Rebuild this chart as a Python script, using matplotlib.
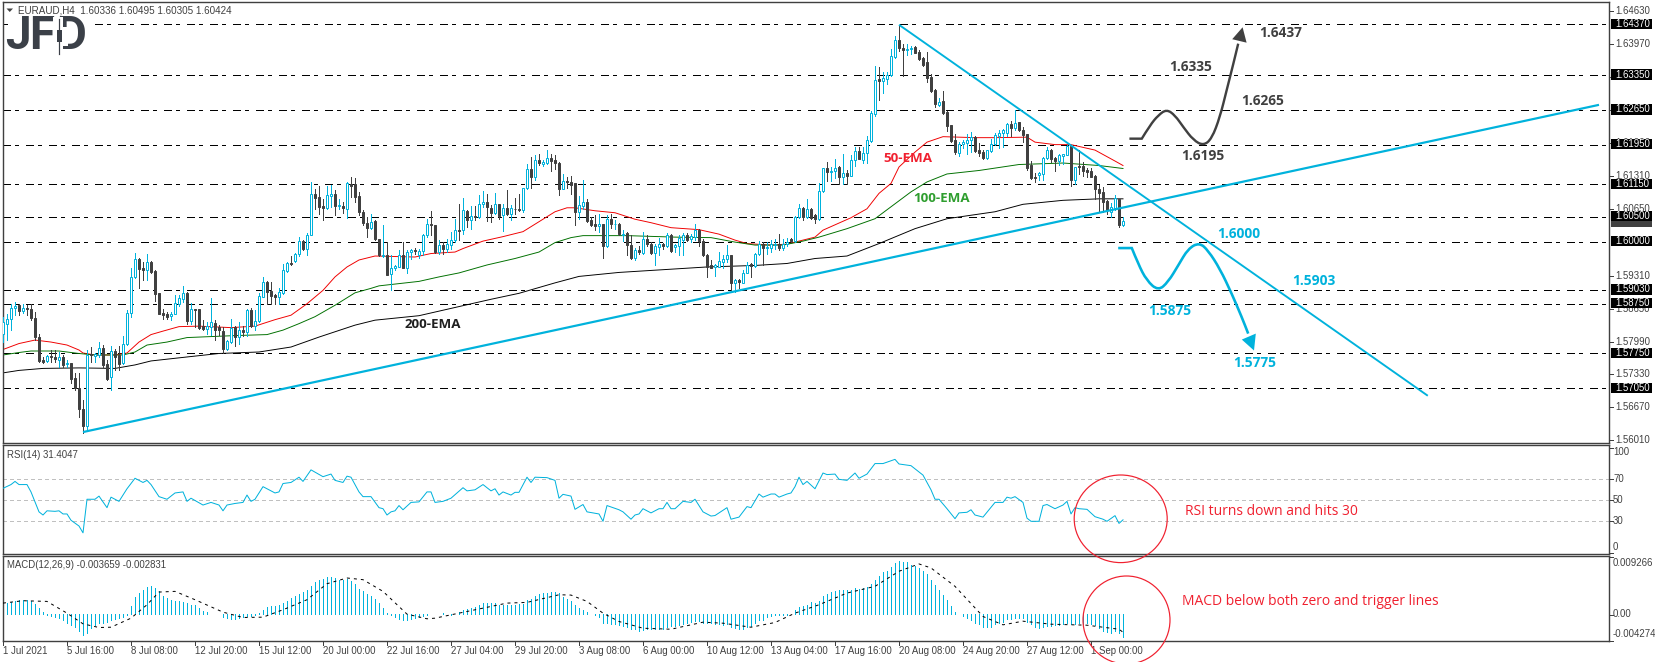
import numpy as np
import matplotlib
matplotlib.use("Agg")
import matplotlib.pyplot as plt
from matplotlib.patches import Rectangle, Ellipse, Polygon, PathPatch
from matplotlib.path import Path

# ---------- DATA (prices are given as pips above 1.5000) ----------
opens_pips = [815,835,845,867,872,861,867,865,847,808,
762,760,770,767,762,768,753,756,725,705,
664,630,773,770,772,787,754,727,780,771,
755,795,857,928,966,946,942,958,940,896,
857,855,850,855,875,885,896,840,865,865,
830,825,829,837,829,821,785,798,829,808,
822,819,863,830,841,889,919,901,892,888,
896,941,957,960,976,1001,986,1014,1096,1090,
1072,1068,1092,1096,1071,1072,1066,1116,1115,1091,
1059,1038,1028,1041,1006,972,974,934,946,949,
974,947,979,984,973,981,1013,1036,1034,979,
993,985,993,1004,1024,1023,1062,1043,1052,1050,
1076,1080,1068,1058,1076,1053,1068,1055,1066,1066,
1063,1107,1145,1130,1164,1157,1158,1169,1164,1158,
1105,1121,1120,1117,1060,1072,1079,1043,1036,1032,
1035,991,1046,1035,1036,1013,1018,994,968,984,
977,1006,996,977,989,995,991,1013,989,992,
1004,1014,1005,1010,1024,1001,974,952,949,949,
959,965,974,916,922,917,937,954,951,976,
996,987,988,993,996,987,995,1005,1001,1050,
1068,1050,1066,1053,1046,1102,1147,1139,1141,1151,
1130,1138,1132,1164,1182,1165,1178,1202,1256,1326,
1323,1326,1336,1371,1406,1390,1386,1387,1391,1381,
1369,1361,1331,1304,1274,1283,1260,1234,1204,1178,
1196,1198,1204,1210,1184,1180,1169,1182,1196,1212,
1218,1218,1236,1228,1241,1225,1217,1155,1130,1133,
1135,1168,1185,1168,1162,1172,1174,1192,1123,1153,
1153,1143,1141,1131,1105,1099,1081,1060,1068,1086,1033.6]
highs_pips = [849,855,875,879,875,875,872,875,859,815,
767,772,783,782,778,772,762,756,735,735,
681,782,788,775,798,792,762,790,785,790,
810,862,946,978,967,959,976,961,942,896,
865,859,859,892,892,911,899,877,865,865,
842,839,886,843,832,829,802,845,830,839,
830,865,867,862,896,928,920,919,894,906,
955,959,971,977,1010,1003,1018,1120,1106,1111,
1086,1111,1113,1104,1086,1080,1120,1129,1127,1100,
1064,1050,1056,1043,1006,1033,999,973,953,984,
999,984,986,988,986,1016,1046,1061,1034,1004,
999,1006,1020,1046,1075,1087,1064,1071,1071,1093,
1101,1095,1073,1097,1076,1076,1103,1073,1087,1095,
1107,1156,1170,1175,1177,1164,1184,1176,1174,1160,
1135,1130,1131,1118,1091,1123,1085,1050,1053,1055,
1035,1053,1056,1043,1038,1023,1020,1013,988,991,
1020,1013,999,996,1008,997,1018,1016,996,1013,
1018,1018,1015,1036,1026,1006,976,963,955,979,
973,993,974,924,924,942,959,956,977,1001,
999,999,1003,1006,1015,1006,1008,1008,1051,1076,
1070,1085,1068,1055,1117,1149,1160,1150,1167,1153,
1177,1143,1174,1190,1190,1190,1212,1262,1354,1351,
1342,1342,1388,1413,1436,1398,1397,1393,1393,1385,
1371,1381,1338,1306,1289,1302,1262,1235,1216,1200,
1204,1217,1220,1212,1198,1184,1185,1207,1218,1224,
1227,1239,1243,1265,1241,1230,1217,1162,1137,1140,
1170,1190,1187,1170,1176,1177,1194,1194,1151,1184,
1160,1147,1147,1133,1113,1110,1083,1078,1093,1086,1049.5]
lows_pips = [798,802,822,852,852,857,852,843,802,758,
756,758,758,758,748,748,748,715,701,648,
616,620,758,758,768,748,721,701,742,742,
754,792,849,926,906,922,922,936,881,854,
845,845,843,854,870,879,834,834,829,825,
823,815,812,803,812,775,783,797,790,795,
810,810,829,822,839,888,875,875,875,875,
894,939,953,959,971,983,973,1013,1066,1056,
1043,1065,1070,1053,1065,1058,1048,1090,1080,1053,
1033,1010,1026,1003,971,969,932,902,942,948,
946,936,966,976,968,973,1009,1013,977,976,
976,979,986,999,1003,1016,1030,1026,1043,1048,
1070,1041,1040,1056,1046,1022,1053,1044,1056,1062,
1060,1105,1107,1123,1154,1152,1156,1142,1145,1093,
1105,1107,1095,1033,1046,1066,1040,1031,1023,1020,
967,989,1028,1026,1013,1001,973,965,963,976,
976,991,976,953,973,986,989,979,979,973,
973,1001,999,1003,991,971,929,946,930,948,
946,959,899,899,906,916,936,929,949,973,
953,976,979,986,984,984,991,999,1000,1048,
1044,1048,1046,1038,1044,1100,1122,1122,1127,1115,
1115,1115,1131,1153,1167,1158,1158,1200,1253,1284,
1299,1316,1334,1370,1383,1334,1375,1377,1379,1365,
1354,1321,1301,1271,1272,1256,1222,1200,1176,1172,
1189,1176,1180,1180,1172,1167,1167,1180,1194,1189,
1190,1212,1212,1224,1222,1200,1143,1125,1120,1123,
1123,1167,1160,1142,1155,1157,1174,1111,1115,1135,
1132,1130,1129,1086,1062,1060,1055,1050,1063,1030,1030.5]
closes_pips = [839,845,867,871,861,866,865,847,808,760,
758,770,767,763,767,752,755,723,705,664,
630,772,771,773,787,752,723,780,768,754,
795,857,928,966,944,942,958,939,895,855,
853,849,855,877,886,896,840,865,863,827,
825,830,839,823,822,785,800,827,808,822,
819,862,830,841,890,918,899,890,888,898,
942,957,954,976,1001,985,1014,1096,1088,1070,
1068,1094,1096,1072,1073,1068,1118,1112,1090,1060,
1038,1028,1040,1005,973,974,932,946,951,974,
947,979,984,981,981,1013,1036,1034,979,993,
985,995,1004,1024,1022,1063,1043,1051,1050,1076,
1080,1070,1058,1076,1051,1067,1055,1067,1065,1064,
1107,1145,1130,1164,1158,1160,1169,1162,1158,1105,
1121,1119,1113,1060,1073,1079,1042,1034,1031,1035,
991,1046,1035,1036,1015,1016,993,968,984,979,
1006,995,977,991,995,991,1013,981,993,1008,
1014,1004,1011,1024,1001,973,949,947,952,960,
966,974,916,922,919,937,952,951,976,996,
988,989,995,996,988,996,999,1001,1050,1068,
1050,1066,1048,1046,1102,1147,1139,1141,1148,1129,
1137,1132,1164,1182,1167,1178,1204,1259,1324,1323,
1328,1336,1373,1406,1389,1385,1388,1389,1380,1367,
1356,1328,1303,1276,1280,1259,1232,1202,1180,1197,
1200,1205,1210,1182,1178,1169,1184,1196,1214,1219,
1225,1236,1228,1239,1224,1214,1147,1127,1127,1137,
1169,1185,1167,1162,1174,1176,1192,1123,1150,1150,
1142,1139,1130,1105,1098,1080,1063,1070,1088,1033,1042.4]

ema50_idx = [0,4,8,12,16,19,20,23,28,31,34,37,40,44,49,57,63,68,72,76,80,83,86,89,93,103,107,109,113,115,120,125,130,134,138,141,143,148,153,158,162,167,174,179,183,186,192,196,200,203,205,212,216,219,222,224,228,231,235,243,248,256,258,263,267,273,278,280]
ema50_pips = [783,795,802,798,792,782,776,772,772,776,798,813,820,829,830,827,830,843,852,875,902,929,949,963,971,969,976,977,979,986,1001,1010,1020,1040,1060,1068,1068,1062,1058,1045,1038,1028,1024,1015,1003,996,993,995,1003,1009,1023,1048,1066,1097,1117,1150,1180,1200,1211,1209,1209,1210,1200,1195,1195,1184,1162,1153]
ema100_idx = [0,4,7,14,19,23,30,33,36,41,46,52,58,66,70,74,78,83,88,92,94,104,109,114,121,128,134,138,142,145,156,168,177,183,188,195,200,204,211,218,222,227,231,236,244,254,265,274,280]
ema100_pips = [772,777,780,780,775,772,772,778,792,798,807,809,811,813,822,835,849,872,897,906,911,920,929,937,953,966,979,998,1008,1012,1012,1009,1008,999,993,993,1001,1009,1026,1046,1070,1100,1120,1136,1143,1155,1158,1153,1147]
ema200_idx = [0,4,10,19,28,33,37,46,54,64,72,79,88,93,104,122,129,138,144,154,162,176,188,196,203,211,219,228,236,248,255,265,274,280]
ema200_pips = [736,741,745,746,745,752,760,768,775,778,788,808,832,842,851,884,896,917,930,938,942,949,952,956,966,971,996,1026,1046,1060,1075,1083,1086,1086]

level_prices = [1.6437,1.6335,1.6265,1.6195,1.6115,1.6050,1.6000,1.5903,1.5875,1.5775,1.5705]
level_labels = ['1.64370','1.63350','1.62650','1.61950','1.61150','1.60500','1.60000','1.59030','1.58750','1.57750','1.57050']
axis_prices = [1.6463,1.6397,1.6331,1.6265,1.6199,1.6131,1.6065,1.5931,1.5865,1.5799,1.5733,1.5667,1.5601]
axis_labels = ['1.64630','1.63970','1.63310','1.62650','1.61990','1.61310','1.60650','1.59310','1.58650','1.57990','1.57330','1.56670','1.56010']

support_idx = [20,399];  support_price = [1.5617,1.6275]
resist_idx = [224,356.2]; resist_price = [1.6436,1.5690]

bull_path_idx = [281.6,284.7,286.75,288.8,290.9,293,295.1,297.6,300.1,302.2,304.25,305.9,307.6,308.8]
bull_path_pips = [1207,1207,1234,1254,1266,1254,1230,1204,1193,1207,1251,1304,1358,1398]
bull_head_idx = [309.9,307.3,310.9]; bull_head_pips = [1431,1407,1400]
bear_path_idx = [278.8,282.2,283.8,285.9,288.8,291.3,293.8,296.3,299.1,301.3,304.25,307.2,309.7,311.3]
bear_path_pips = [987,987,955,922,901,919,952,986,998,982,945,895,848,815]
bear_head_idx = [312.75,309.7,313.2]; bear_head_pips = [781,803,815]

rsi_idx = [0,2,3,4,6,7,9,10,11,13,14,15,16,17,19,20,21,23,24,26,27,29,31,33,35,36,37,39,41,43,45,46,47,50,52,54,55,56,58,60,61,62,63,65,68,69,70,72,74,75,77,80,82,83,85,86,87,89,90,92,94,95,96,97,98,99,100,102,104,106,107,108,110,112,115,116,118,120,122,123,124,125,127,128,129,131,132,133,136,138,139,
140,142,143,145,146,149,150,151,154,155,157,158,159,160,162,164,165,166,167,168,170,172,173,175,177,178,181,182,184,186,187,189,190,192,193,194,196,197,198,199,200,201,203,205,206,208,209,211,213,214,216,218,220,223,224,227,230,232,233,234,236,238,239,241,242,243,245,248,250,251,252,253,255,256,257,259,260,261,263,265,266,267,268,269,271,273,275,276,278,279,280]
rsi_vals = [61.4,65,68,65,65,58,39,36,40,39.5,40,37,37,31,25.5,19,51,51,54,43,53,49,61,71,67,69,65,53.5,51,57,58,49,52,45.5,48,45.5,40,45.5,47,48,55,49,51,63,57,58,66,67,72,68,79,72.5,75,69,67,73,72,58,53.5,53.5,43,42,36,39,40,45,41,48,48.5,58,58,48,49,52,62,59,60,65,59,61,55,58,55,57.6,57.6,72,67,72,71.6,69,52,
55.7,54,41.4,46,39,37,30,45,41,39,32,36,37,42,38,42,42,48,42,42,49,48,51,39,35,35.5,43,32,34,44,43,56,53,56,56,53,56,57,63,72,65,68,61,76,74.5,75,70,69,76,71,75,85,85,89,84.6,83,74,60,51,51,42,32.5,38,38.6,41,36,34,48,48,53,52,53.5,48,33,30,30,45,46,42,45.5,49,37,43,42,41.4,34.4,32,30,35.4,28,31.4]

macd_hist_milli = [1.81,1.81,1.97,2.13,2.29,2.29,2.24,2.19,1.71,1.01,.43,-.02,-.32,-.43,-.59,-.96,-1.28,-1.65,-1.92,-2.61,
-3.25,-2.88,-2.19,-1.71,-1.39,-1.28,-1.12,-.96,-.75,-.59,-.43,-.16,1.39,2.72,3.41,3.94,4.37,4.58,4.21,3.68,
2.98,2.61,2.35,2.19,2.19,1.97,1.81,1.55,1.44,1.01,.59,.32,.11,.02,.11,-.43,-.59,-.69,-.75,-.59,
-.43,-.32,-.21,-.11,.21,.75,1.12,1.28,1.39,1.44,1.81,2.19,2.56,2.98,3.30,3.52,3.94,4.48,5.17,5.54,
5.70,5.92,6.02,5.81,5.54,5.44,5.65,5.28,4.85,4.10,3.68,3.30,2.88,2.45,1.81,1.01,.21,-.11,-.43,-.69,
-.96,-.85,-.75,-.59,-.48,-.32,-.16,.02,.02,.05,.16,.11,-.05,.11,.32,.75,.91,1.01,1.17,1.44,
1.76,1.81,1.76,1.81,1.55,1.55,1.49,1.55,1.55,1.60,1.71,2.24,2.51,2.98,3.30,3.41,3.41,3.52,3.52,3.41,
2.77,2.45,2.08,1.44,1.01,.69,.32,.11,-.11,-.48,-1.39,-1.39,-1.49,-1.55,-1.65,-1.81,-2.03,-2.24,-2.35,-2.56,
-2.45,-2.24,-2.24,-2.35,-2.24,-2.24,-1.92,-1.81,-1.81,-1.65,-1.55,-1.39,-1.17,-1.01,-1.01,-1.28,-1.39,-1.39,-1.49,-1.55,
-1.65,-1.55,-2.03,-2.19,-2.24,-2.29,-2.03,-1.76,-1.39,-.85,-.85,-.43,-.21,-.11,-.05,-.05,-.11,.11,.75,1.12,
1.39,1.55,1.92,1.81,2.19,2.88,3.25,3.52,3.78,3.89,3.94,3.94,3.94,4.21,4.10,4.21,4.32,4.90,5.44,6.08,
6.77,6.98,7.52,8.21,8.47,8.42,8.31,7.94,7.68,7.41,6.98,6.45,5.54,4.64,3.94,3.14,2.24,1.39,.43,.11,
-.32,-.59,-.85,-1.28,-1.49,-1.92,-1.92,-1.92,-1.55,-1.39,-1.12,-.75,-.69,-.64,-.59,-.59,-1.12,-1.55,-1.92,-2.19,
-2.03,-1.81,-1.76,-1.65,-1.65,-1.49,-1.39,-1.55,-1.49,-1.39,-1.49,-1.39,-1.49,-1.71,-2.19,-2.56,-2.82,-2.98,-2.61,-2.98,-3.659]
signal_idx = [0,5,11,16,20,24,27,32,36,39,43,48,55,60,65,70,76,81,86,90,95,101,106,108,114,120,126,131,139,142,146,150,154,160,167,175,180,187,193,198,204,211,218,224,229,232,238,245,250,255,262,271,279,280]
signal_milli = [1.81,2.19,2.08,.21,-1.49,-2.08,-2.03,-.59,1.55,3.57,3.68,2.35,.37,-.48,-.43,.75,2.35,4.90,5.81,5.54,3.68,.05,-.69,-.59,.21,1.01,1.81,1.92,3.14,3.09,2.08,.21,-1.12,-2.19,-2.35,-1.23,-1.39,-2.03,-1.28,.21,1.55,3.41,4.48,6.88,8.05,7.41,4.48,-.32,-1.65,-1.07,-1.55,-1.71,-2.35,-2.831]

date_labels = ['1 Jul 2021','5 Jul 16:00','8 Jul 08:00','12 Jul 20:00','15 Jul 12:00','20 Jul 00:00','22 Jul 16:00','27 Jul 04:00','29 Jul 20:00','3 Aug 08:00','6 Aug 00:00','10 Aug 12:00','13 Aug 04:00','17 Aug 16:00','20 Aug 08:00','24 Aug 20:00','27 Aug 12:00','1 Sep 00:00']
date_every = 16
rsi_levels = [30,50,70]
rsi_ticks = [100,70,50,30,0]

# ---------- STYLE ----------
W, H = 1655, 662
PX = 0.72  # one pixel in points at dpi 100
THIN = PX * 0.8
CYAN = '#00b2dc'; DARK = '#404040'; RED = '#f0202f'
plt.rcParams['font.family'] = ['Liberation Sans', 'DejaVu Sans']
AXIS_FS = 6.9
BOLD = 'Open Sans'

def price(p):
    return 1.5 + np.asarray(p, dtype=float) / 1e4

def smooth_path(xs, ys):
    """Straight start, then a quadratic curve through the knot midpoints."""
    pts = np.column_stack([xs, ys])
    verts = [pts[0], pts[1]]
    codes = [Path.MOVETO, Path.LINETO]
    for k in range(2, len(pts) - 1):
        verts += [pts[k], (pts[k] + pts[k+1]) / 2]
        codes += [Path.CURVE3, Path.CURVE3]
    verts.append(pts[-1]); codes.append(Path.LINETO)
    return Path(verts, codes)

fig = plt.figure(figsize=(W/100, H/100), dpi=100, facecolor='white')
L, R = 2.5, 1609.0

def panel(top, bottom):
    a = fig.add_axes([L/W, 1-bottom/H, (R-L)/W, (bottom-top)/H])
    a.set_xlim((L-3)/4, (R-3)/4)
    a.set_xticks([]); a.set_yticks([])
    for s in a.spines.values():
        s.set_color(DARK); s.set_linewidth(1.4*PX)
    return a

ax = panel(2.3, 443.3)
ax.set_ylim(1.55944, 1.64812)
rsi_ax = panel(445.3, 554.3)
rsi_ax.set_ylim(-1.43, 102.4)
macd_ax = panel(556.3, 641.3)
macd_ax.set_ylim(-0.004274, 0.009266)

# price panel
n = len(closes_pips)
x = np.arange(n)
o, h, l, c = map(price, (opens_pips, highs_pips, lows_pips, closes_pips))
for lv in level_prices:
    ax.axhline(lv, color='black', lw=THIN, ls=(0, (10, 6, 4, 10)), zorder=1, antialiased=False)
ax.plot(ema50_idx, price(ema50_pips), color='#f00000', lw=PX*0.95, zorder=2)
ax.plot(ema100_idx, price(ema100_pips), color='#007000', lw=PX*0.95, zorder=2)
ax.plot(ema200_idx, price(ema200_pips), color='black', lw=PX*0.95, zorder=2)
up = c >= o
ax.vlines(x[up], l[up], h[up], color=CYAN, lw=THIN, zorder=3, antialiased=False)
ax.vlines(x[~up], l[~up], h[~up], color=DARK, lw=THIN, zorder=3, antialiased=False)
ax.bar(x[up], (c-o)[up], bottom=o[up], width=0.5, facecolor='white', edgecolor=CYAN, linewidth=PX, zorder=4)
ax.bar(x[~up], (c-o)[~up], bottom=o[~up], width=0.5, facecolor=DARK, edgecolor=DARK, linewidth=PX, zorder=4)
ax.plot(support_idx, support_price, color=CYAN, lw=2.2*PX, zorder=5, solid_capstyle='butt')
ax.plot(resist_idx, resist_price, color=CYAN, lw=1.9*PX, zorder=5, solid_capstyle='butt')
ax.add_patch(PathPatch(smooth_path(bull_path_idx, price(bull_path_pips)), fc='none', ec=DARK, lw=2.4*PX, zorder=6, capstyle='butt'))
ax.add_patch(Polygon(np.column_stack([bull_head_idx, price(bull_head_pips)]), closed=True, fc=DARK, ec='none', zorder=6))
ax.add_patch(PathPatch(smooth_path(bear_path_idx, price(bear_path_pips)), fc='none', ec=CYAN, lw=2.6*PX, zorder=6, capstyle='butt'))
ax.add_patch(Polygon(np.column_stack([bear_head_idx, price(bear_head_pips)]), closed=True, fc=CYAN, ec='none', zorder=6))

# RSI panel
for lv in rsi_levels:
    rsi_ax.axhline(lv, color='#c0c0c0', lw=THIN, ls=(0, (5, 4)), zorder=1, antialiased=False)
rsi_ax.plot(rsi_idx, rsi_vals, color=CYAN, lw=PX, zorder=3)

# MACD panel
macd_ax.vlines(x, 0, np.array(macd_hist_milli)/1e3, color=CYAN, lw=THIN, zorder=2, antialiased=False)
macd_ax.plot(signal_idx, np.array(signal_milli)/1e3, color='black', lw=PX, ls=(0, (3, 4)), zorder=3)

# Overlay in pixel space for labels, boxes and circles
ov = fig.add_axes([0, 0, 1, 1], facecolor='none', zorder=10)
ov.set_xlim(0, W); ov.set_ylim(H, 0); ov.axis('off')

def price_y(p):
    return 24.3 + (1.6437 - p) * 4972.7

# axis price labels and ticks
for p, s in zip(axis_prices, axis_labels):
    y = price_y(p)
    ov.plot([R, R+3.5], [y, y], color=DARK, lw=PX)
    ov.text(1615.5, y, s, color=DARK, fontsize=AXIS_FS, va='center', ha='left')
# last price box then level boxes
y = price_y(1.60424)
ov.add_patch(Rectangle((1611, y-4.5), 41, 11, fc=DARK, ec='none', zorder=3))
for p, s in zip(level_prices, level_labels):
    y = price_y(p) - 0.5
    ov.add_patch(Rectangle((1611, y-5.2), 41, 10.4, fc='black', ec='none', zorder=3))
    ov.text(1615.5, y, s, color='white', fontsize=AXIS_FS, va='center', ha='left', zorder=4)

# RSI axis
for v in rsi_ticks:
    yy = 500.3 - (v-50)*1.05
    ov.plot([R, R+3.5], [yy, yy], color=DARK, lw=PX)
    ty = {100: 452.3, 0: 547.3}.get(v, yy)
    ov.text(1613, ty, str(v), color=DARK, fontsize=AXIS_FS, va='center', ha='left')
# MACD axis
for yy, ty, s in [(556.8, 563.3, '0.009266'), (614.7, 614.3, '0.00'), (641, 634.3, '-0.004274')]:
    ov.plot([R, R+3.5], [yy, yy], color=DARK, lw=PX)
    ov.text(1613, ty, s, color=DARK, fontsize=AXIS_FS, va='center', ha='left')

# date axis
for k, s in enumerate(date_labels):
    tx = 3 + 4*date_every*k
    ov.plot([tx, tx], [641.3, 645], color=DARK, lw=PX)
    ov.text(tx, 650.7, s, color=DARK, fontsize=AXIS_FS, va='center', ha='left')

# header text
ov.add_patch(Polygon([[6.5, 8.5], [13, 8.5], [9.75, 12]], closed=True, fc=DARK, ec='none'))
ov.text(18, 10.7, 'EURAUD,H4  1.60336 1.60495 1.60305 1.60424', color=DARK, fontsize=AXIS_FS+0.2, va='center', ha='left')
ov.text(7, 454.7, 'RSI(14) 31.4047', color=DARK, fontsize=AXIS_FS, va='center', ha='left')
ov.text(7, 565.3, 'MACD(12,26,9) -0.003659 -0.002831', color=DARK, fontsize=AXIS_FS, va='center', ha='left')

# logo
LOGO = '#3b4048'
ov.add_patch(Rectangle((8, 16), 80, 40, fc='white', ec='none', zorder=2))
ov.text(17.5, 36, 'J', color=LOGO, fontsize=33, fontweight='bold', family='Roboto', va='center', ha='center', zorder=3)
ov.text(42, 36, 'F', color=LOGO, fontsize=33, fontweight='bold', family='Roboto', va='center', ha='center', zorder=3)
ov.text(71, 36, 'D', color=LOGO, fontsize=33, fontweight='bold', family='Roboto', va='center', ha='center', zorder=3)
ov.add_patch(Rectangle((53, 17), 9.5, 38, fc='white', ec='none', zorder=4))
ov.add_patch(Rectangle((62, 26.5), 6, 19, fc='white', ec='none', zorder=4))
ov.plot([59, 59], [19, 53.5], color=LOGO, lw=PX*1.2, zorder=5)
ov.add_patch(Rectangle((56.5, 30), 5.5, 12, fc=LOGO, ec='none', zorder=5))

# level labels on chart
for s, tx, ty in [('1.6437', 1281, 32.7), ('1.6335', 1191, 67), ('1.6265', 1263, 101), ('1.6195', 1203, 156)]:
    ov.text(tx, ty, s, color=DARK, fontsize=9.9, fontweight='bold', family=BOLD, va='center', ha='center')
for s, tx, ty in [('1.6000', 1239, 234), ('1.5903', 1314, 281), ('1.5875', 1170, 311), ('1.5775', 1255, 363)]:
    ov.text(tx, ty, s, color=CYAN, fontsize=9.9, fontweight='bold', family=BOLD, va='center', ha='center')
ov.text(908, 158, '50-EMA', color='#f0202f', fontsize=9.6, fontweight='bold', family=BOLD, va='center', ha='center')
ov.text(942, 198, '100-EMA', color='#2f9e2f', fontsize=9.6, fontweight='bold', family=BOLD, va='center', ha='center')
ov.text(433, 325, '200-EMA', color='#202020', fontsize=9.6, fontweight='bold', family=BOLD, va='center', ha='center')

# callouts
ov.add_patch(Ellipse((1120.7, 518.8), 93, 87.6, fc='none', ec=RED, lw=PX*1.2, zorder=6))
ov.add_patch(Ellipse((1126.5, 620), 87, 88, fc='none', ec=RED, lw=PX*1.2, zorder=6))
ov.text(1271, 511.3, 'RSI turns down and hits 30', color=RED, fontsize=10.0, family='Open Sans', va='center', ha='center')
ov.text(1310, 601.3, 'MACD below both zero and trigger lines', color=RED, fontsize=10.0, family='Open Sans', va='center', ha='center')

fig.savefig('out.png', dpi=100, facecolor='white')
